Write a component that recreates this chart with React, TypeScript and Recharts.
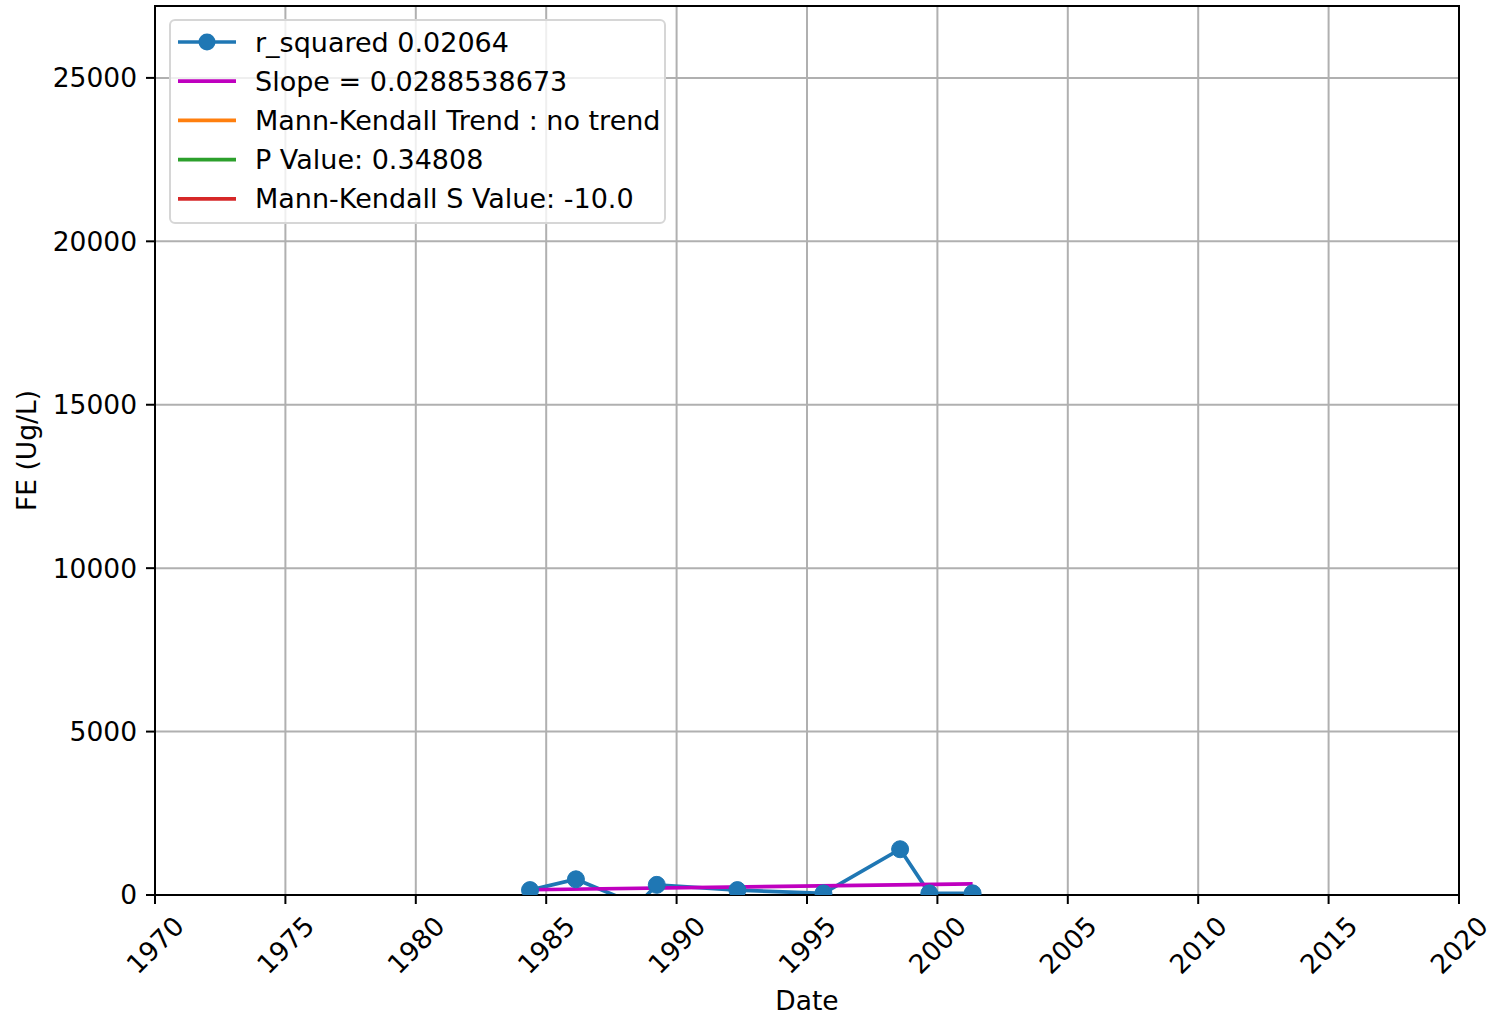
import React from 'react';
import { LineChart, Line, XAxis, YAxis, CartesianGrid, ReferenceArea } from 'recharts';

// decimal years
const sampleYears = [1984.38, 1986.14, 1988.5, 1989.24, 1992.33, 1995.63, 1998.57, 1999.69, 2001.35];
const feValues = [150, 480, -300, 310, 150, 50, 1400, 50, 50];

const trendYears = [1984.38, 2001.35];
const trendValues = [160, 339];

const xTicks = [1970, 1975, 1980, 1985, 1990, 1995, 2000, 2005, 2010, 2015, 2020];
const yTicks = [0, 5000, 10000, 15000, 20000, 25000];

const legendLabels = [
  'r_squared 0.02064',
  'Slope = 0.0288538673',
  'Mann-Kendall Trend : no trend',
  'P Value: 0.34808',
  'Mann-Kendall S Value: -10.0',
];
const legendColors = ['#1f77b4', '#bf00bf', '#ff7f0e', '#2ca02c', '#d62728'];

const FONT = '"DejaVu Sans", sans-serif';
const TICK_FS = 26.5;

const obsData = sampleYears.map((year, i) => ({ year, fe: feValues[i] }));
const trendData = trendYears.map((year, i) => ({ year, fe: trendValues[i] }));

const XTick = (props: any) => {
  const { x, y, payload } = props;
  return (
    <text
      x={0}
      y={0}
      transform={`translate(${x},${y + 41}) rotate(-45)`}
      textAnchor="middle"
      dominantBaseline="central"
      fontSize={TICK_FS}
      fontFamily={FONT}
      fill="#000"
    >
      {payload.value}
    </text>
  );
};

// drawn over the chart instead of <Legend>, so it takes no room from the plot
const LegendBox = () => (
  <div
    style={{
      position: 'absolute',
      left: 169,
      top: 19,
      width: 497,
      height: 205,
      background: 'rgba(255,255,255,0.8)',
      border: '2px solid #d6d6d6',
      borderRadius: 6,
      boxSizing: 'border-box',
    }}
  >
    <svg width={493} height={201} style={{ display: 'block' }}>
      {legendLabels.map((label, i) => {
        const cy = 21 + i * 39.2;
        return (
          <g key={label}>
            <line x1={7} x2={65} y1={cy} y2={cy} stroke={legendColors[i]} strokeWidth={3.7} />
            {i === 0 && <circle cx={36} cy={cy} r={8.5} fill={legendColors[0]} />}
            <text x={84} y={cy} dominantBaseline="central" fontSize={27} fontFamily={FONT} fill="#000">
              {label}
            </text>
          </g>
        );
      })}
    </svg>
  </div>
);

export default function App() {
  return (
    <div style={{ position: 'absolute', left: 0, top: 0, width: 1495, height: 1018, background: '#fff' }}>
      <LineChart width={1495} height={1018} margin={{ top: 6, right: 36, bottom: 0, left: 0 }}>
        <CartesianGrid stroke="#b0b0b0" strokeWidth={2} />
        <XAxis
          type="number"
          dataKey="year"
          domain={[1970, 2020]}
          ticks={xTicks}
          allowDataOverflow
          tick={<XTick />}
          tickSize={9}
          tickMargin={0}
          height={123}
          axisLine={{ stroke: '#000', strokeWidth: 2 }}
          tickLine={{ stroke: '#000', strokeWidth: 2 }}
          label={{ value: 'Date', position: 'insideBottom', offset: 8, fontSize: TICK_FS, fontFamily: FONT, fill: '#000' }}
        />
        <YAxis
          type="number"
          domain={[0, 27200]}
          ticks={yTicks}
          allowDataOverflow
          width={155}
          tickSize={9}
          tickMargin={9}
          tick={{ fontSize: TICK_FS, fontFamily: FONT, fill: '#000' }}
          axisLine={{ stroke: '#000', strokeWidth: 2 }}
          tickLine={{ stroke: '#000', strokeWidth: 2 }}
          label={{
            value: 'FE (Ug/L)',
            angle: -90,
            position: 'insideLeft',
            offset: 27,
            style: { textAnchor: 'middle' },
            fontSize: TICK_FS,
            fontFamily: FONT,
            fill: '#000',
          }}
        />
        <ReferenceArea x1={1970} x2={2020} y1={0} y2={27200} fill="none" stroke="#000" strokeWidth={2} />
        <Line
          data={obsData}
          dataKey="fe"
          stroke={legendColors[0]}
          strokeWidth={3.7}
          dot={{ r: 8.5, fill: legendColors[0], stroke: legendColors[0], strokeWidth: 1 }}
          isAnimationActive={false}
        />
        <Line
          data={trendData}
          dataKey="fe"
          stroke={legendColors[1]}
          strokeWidth={3.7}
          dot={false}
          isAnimationActive={false}
        />
      </LineChart>
      <LegendBox />
    </div>
  );
}
